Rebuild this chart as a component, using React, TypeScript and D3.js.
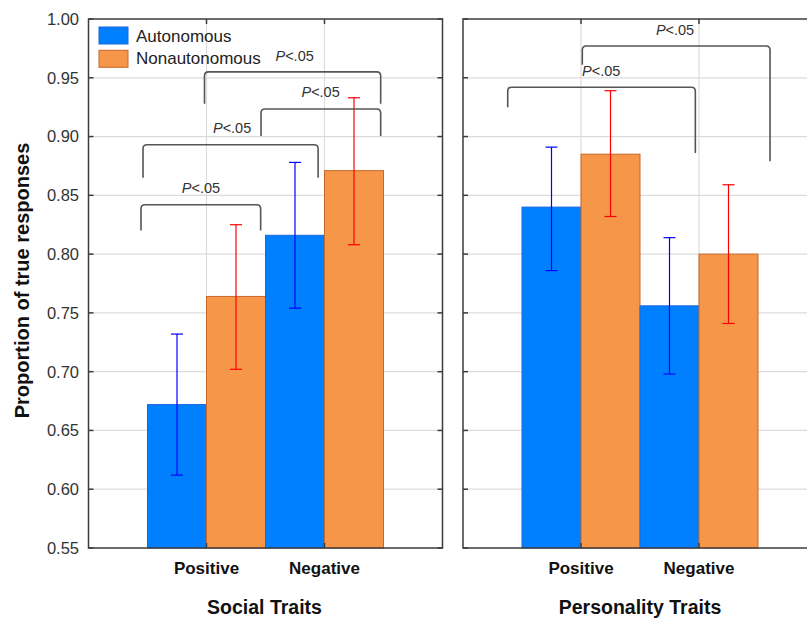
import React from "react";
import * as d3 from "d3";

const categories = ["Positive", "Negative"];
const panelTitles = ["Social Traits", "Personality Traits"];
const seriesNames = ["Autonomous", "Nonautonomous"];
// [panel][category]
const autoMean = [[0.672, 0.816], [0.840, 0.756]];
const autoLow = [[0.612, 0.754], [0.786, 0.698]];
const autoHigh = [[0.732, 0.878], [0.891, 0.814]];
const nonMean = [[0.764, 0.871], [0.885, 0.800]];
const nonLow = [[0.702, 0.808], [0.832, 0.741]];
const nonHigh = [[0.825, 0.933], [0.939, 0.859]];
const yTicks = [0.55, 0.6, 0.65, 0.7, 0.75, 0.8, 0.85, 0.9, 0.95, 1.0];
// brackets: panel, x1, x2 (category units), top, left leg end, right leg end, label x, label y
const brackets = [
  { p: 0, x1: 0.445, x2: 1.459, top: 0.842, l: 0.820, r: 0.820, lx: 0.953, ly: 0.852 },
  { p: 0, x1: 0.462, x2: 1.946, top: 0.893, l: 0.865, r: 0.865, lx: 1.217, ly: 0.903 },
  { p: 0, x1: 1.462, x2: 2.476, top: 0.9235, l: 0.9005, r: 0.9005, lx: 1.967, ly: 0.9337 },
  { p: 0, x1: 0.983, x2: 2.476, top: 0.955, l: 0.928, r: 0.928, lx: 1.747, ly: 0.964 },
  { p: 1, x1: 0.379, x2: 1.969, top: 0.942, l: 0.925, r: 0.886, lx: 1.171, ly: 0.9515 },
  { p: 1, x1: 1.011, x2: 2.602, top: 0.977, l: 0.961, r: 0.879, lx: 1.797, ly: 0.986 },
];

const W = 807, H = 622;
const top = 19, bottom = 548;
const panelRanges: [number, number][] = [[88.5, 442.5], [463, 817]];
const FONT = "'Liberation Sans', Arial, sans-serif";
const BLUE = "#0080ff", BLUE_S = "#1a66dd";
const ORANGE = "#f59648", ORANGE_S = "#c8672a";

export default function App() {
  const y = d3.scaleLinear().domain([0.55, 1.0]).range([bottom, top]);
  const xs = panelRanges.map((r) => d3.scaleLinear().domain([0, 3]).range(r));
  const frame = "#3c3c3c";

  const bracketPath = (b: typeof brackets[0]) => {
    const x = xs[b.p];
    const X1 = x(b.x1), X2 = x(b.x2), Y = y(b.top);
    const rr = 4;
    return `M${X1},${y(b.l)} L${X1},${Y + rr} Q${X1},${Y} ${X1 + rr},${Y} L${X2 - rr},${Y} Q${X2},${Y} ${X2},${Y + rr} L${X2},${y(b.r)}`;
  };

  return (
    <svg width={W} height={H} style={{ position: "absolute", left: 0, top: 0, background: "#fff" }} fontFamily={FONT}>
      <rect width={W} height={H} fill="#fff" />
      {panelRanges.map((r, p) => {
        const x = xs[p];
        return (
          <g key={p}>
            {/* grid */}
            {yTicks.slice(1, -1).map((t) => (
              <line key={t} x1={r[0]} x2={r[1]} y1={y(t)} y2={y(t)} stroke="#dcdcdc" strokeWidth={1.2} />
            ))}
            {categories.map((c, i) => (
              <line key={c} x1={x(i + 1)} x2={x(i + 1)} y1={top} y2={bottom} stroke="#dcdcdc" strokeWidth={1.2} />
            ))}
            {/* bars */}
            {categories.map((c, i) => (
              <g key={c}>
                <rect x={x(i + 0.5)} y={y(autoMean[p][i])} width={x(i + 1) - x(i + 0.5)} height={y(0.55) - y(autoMean[p][i])} fill={BLUE} stroke={BLUE_S} strokeWidth={1} />
                <rect x={x(i + 1)} y={y(nonMean[p][i])} width={x(i + 1.5) - x(i + 1)} height={y(0.55) - y(nonMean[p][i])} fill={ORANGE} stroke={ORANGE_S} strokeWidth={1} />
              </g>
            ))}
            {/* error bars */}
            {categories.map((c, i) => {
              const xa = x(i + 0.75), xn = x(i + 1.25);
              return (
                <g key={c}>
                  <line x1={xa} x2={xa} y1={y(autoLow[p][i])} y2={y(autoHigh[p][i])} stroke="#0000ff" strokeWidth={1.2} />
                  <line x1={xa - 6} x2={xa + 6} y1={y(autoLow[p][i])} y2={y(autoLow[p][i])} stroke="#0000ff" strokeWidth={1.2} />
                  <line x1={xa - 6} x2={xa + 6} y1={y(autoHigh[p][i])} y2={y(autoHigh[p][i])} stroke="#0000ff" strokeWidth={1.2} />
                  <line x1={xn} x2={xn} y1={y(nonLow[p][i])} y2={y(nonHigh[p][i])} stroke="#ff0000" strokeWidth={1.2} />
                  <line x1={xn - 6} x2={xn + 6} y1={y(nonLow[p][i])} y2={y(nonLow[p][i])} stroke="#ff0000" strokeWidth={1.2} />
                  <line x1={xn - 6} x2={xn + 6} y1={y(nonHigh[p][i])} y2={y(nonHigh[p][i])} stroke="#ff0000" strokeWidth={1.2} />
                </g>
              );
            })}
            {/* frame */}
            <rect x={r[0]} y={top} width={r[1] - r[0]} height={bottom - top} fill="none" stroke={frame} strokeWidth={1.5} />
            {/* inner ticks */}
            {yTicks.map((t) => (
              <g key={t}>
                <line x1={r[0]} x2={r[0] + 5} y1={y(t)} y2={y(t)} stroke={frame} strokeWidth={1.5} />
                <line x1={r[1] - 5} x2={r[1]} y1={y(t)} y2={y(t)} stroke={frame} strokeWidth={1.5} />
              </g>
            ))}
            {categories.map((c, i) => (
              <g key={c}>
                <line x1={x(i + 1)} x2={x(i + 1)} y1={top} y2={top + 5} stroke={frame} strokeWidth={1.5} />
                <line x1={x(i + 1)} x2={x(i + 1)} y1={bottom - 5} y2={bottom} stroke={frame} strokeWidth={1.5} />
                <text x={x(i + 1)} y={574} textAnchor="middle" fontWeight="bold" fontSize={17} fill="#111">{c}</text>
              </g>
            ))}
            <text x={(r[0] + r[1]) / 2 + (p === 0 ? -1 : 0)} y={614} textAnchor="middle" fontWeight="bold" fontSize={19.5} fill="#111" style={{ whiteSpace: "pre" }}>
              {panelTitles[p]}
            </text>
          </g>
        );
      })}
      {/* brackets */}
      {brackets.map((b, i) => (
        <g key={i}>
          <path d={bracketPath(b)} fill="none" stroke="#555" strokeWidth={1.6} />
          <text x={xs[b.p](b.lx)} y={y(b.ly)} textAnchor="middle" fontSize={14.5} fill="#333">
            <tspan fontStyle="italic">P</tspan>&lt;.05
          </text>
        </g>
      ))}
      {/* y tick labels */}
      {yTicks.map((t) => (
        <text key={t} x={79} y={y(t)} dy="0.36em" textAnchor="end" fontSize={16.5} fill="#333">
          {d3.format(".2f")(t)}
        </text>
      ))}
      {/* y axis title */}
      <text transform={`translate(29,${(top + bottom) / 2 - 3}) rotate(-90)`} textAnchor="middle" fontWeight="bold" fontSize={20} fill="#111">
        Proportion of true responses
      </text>
      {/* legend */}
      {seriesNames.map((s, i) => (
        <g key={s}>
          <rect x={99} y={27 + i * 23.3} width={29} height={17} fill={i === 0 ? BLUE : ORANGE} stroke={i === 0 ? BLUE_S : ORANGE_S} strokeWidth={1} />
          <text x={136} y={42 + i * 21.7} fontSize={17} fill="#222">{s}</text>
        </g>
      ))}
    </svg>
  );
}
